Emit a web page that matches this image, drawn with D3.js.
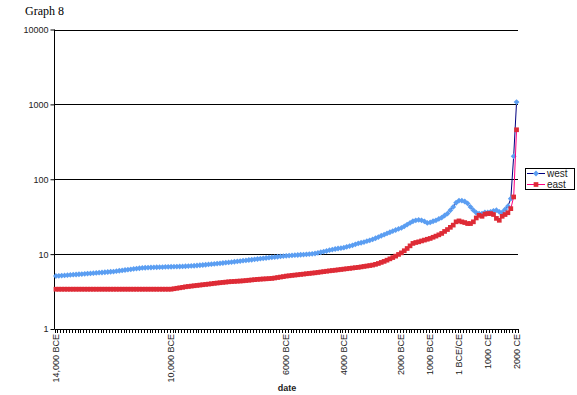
<!DOCTYPE html>
<html>
<head>
<meta charset="utf-8">
<script src="https://cdn.jsdelivr.net/npm/d3@7"></script>
<style>
  body { margin: 0; background: #fff; }
  svg { display: block; }
  text { font-family: "Liberation Sans", Arial, sans-serif; }
</style>
</head>
<body>
<svg></svg>
<script>
const svgWidth = 577;
const svgHeight = 395;

// categories: one every 100 years, 14,000 BCE .. 2000 CE
const years = d3.range(-14000, 2001, 100);

const west = [
  5.10, 5.13, 5.17, 5.20, 5.24, 5.27, 5.31, 5.34, 5.38, 5.41, 5.45,
  5.49, 5.53, 5.57, 5.61, 5.65, 5.69, 5.73, 5.77, 5.81, 5.85,
  5.92, 5.99, 6.06, 6.13, 6.20, 6.27, 6.34, 6.41, 6.48, 6.55,
  6.58, 6.61, 6.63, 6.66, 6.68, 6.70, 6.72, 6.74, 6.76, 6.78,
  6.80, 6.82, 6.84, 6.86, 6.88, 6.92, 6.96, 7.00, 7.05, 7.10,
  7.16, 7.22, 7.28, 7.34, 7.40, 7.47, 7.54, 7.61, 7.68, 7.75,
  7.83, 7.91, 8.00, 8.08, 8.17, 8.25, 8.34, 8.42, 8.51, 8.60,
  8.69, 8.78, 8.87, 8.96, 9.05, 9.14, 9.23, 9.32, 9.41, 9.50,
  9.56, 9.62, 9.68, 9.74, 9.80, 9.87, 9.94, 10.0, 10.1, 10.2,
  10.4, 10.6, 10.8, 11.0, 11.3, 11.5, 11.7, 11.9, 12.0, 12.2,
  12.5, 12.8, 13.1, 13.5, 13.9, 14.2, 14.5, 14.9, 15.3, 15.7,
  16.3, 16.9, 17.6, 18.2, 18.9, 19.6, 20.3, 21.0, 21.7, 22.4,
  23.5, 24.8, 26.1, 27.5, 28.3, 28.6, 28.3, 27.4, 26.1, 26.5,
  27.5, 28.3, 29.5, 30.8, 32.8, 34.8, 38.5, 42.7, 48.5, 51.7,
  51.7, 50.5, 47.5, 42.7, 38.6, 35.7, 34.8, 34.8, 36.0, 36.0,
  36.7, 37.9, 38.6, 36.7, 36.0, 39.5, 43.7, 55, 203, 1073
];

const east = [
  3.4, 3.4, 3.4, 3.4, 3.4, 3.4, 3.4, 3.4, 3.4, 3.4, 3.4,
  3.4, 3.4, 3.4, 3.4, 3.4, 3.4, 3.4, 3.4, 3.4, 3.4,
  3.4, 3.4, 3.4, 3.4, 3.4, 3.4, 3.4, 3.4, 3.4, 3.4,
  3.4, 3.4, 3.4, 3.4, 3.4, 3.4, 3.4, 3.4, 3.4, 3.4,
  3.45, 3.5, 3.55, 3.6, 3.66, 3.7, 3.74, 3.78, 3.82, 3.86,
  3.9, 3.94, 3.98, 4.02, 4.07, 4.11, 4.15, 4.19, 4.23, 4.27,
  4.3, 4.32, 4.35, 4.37, 4.4, 4.44, 4.48, 4.52, 4.56, 4.6,
  4.63, 4.66, 4.68, 4.71, 4.74, 4.8, 4.87, 4.94, 5.01, 5.09,
  5.14, 5.2, 5.25, 5.3, 5.36, 5.41, 5.47, 5.52, 5.58, 5.63,
  5.7, 5.77, 5.84, 5.91, 5.98, 6.04, 6.1, 6.17, 6.24, 6.31,
  6.38, 6.45, 6.52, 6.59, 6.66, 6.75, 6.85, 6.94, 7.04, 7.14,
  7.3, 7.5, 7.75, 8.0, 8.3, 8.65, 9.0, 9.4, 9.9, 10.4,
  11.1, 11.9, 12.9, 13.9, 14.3, 14.6, 15.0, 15.4, 15.8, 16.2,
  16.8, 17.4, 18.1, 18.9, 20.1, 21.3, 22.8, 24.4, 27.0, 27.8,
  27.0, 26.4, 25.6, 25.6, 27.0, 30.4, 33.0, 32.0, 34.2, 34.8,
  34.8, 33.8, 30.0, 28.3, 32.0, 33.8, 35.7, 40.5, 58, 458
];

const tickYears = [-14000, -10000, -6000, -4000, -2000, -1000, 0, 1000, 2000];
const tickLabels = ["14,000 BCE", "10,000 BCE", "6000 BCE", "4000 BCE", "2000 BCE",
                    "1000 BCE", "1 BCE/CE", "1000 CE", "2000 CE"];
const yTicks = [1, 10, 100, 1000, 10000];

const svg = d3.select("svg")
  .attr("width", svgWidth)
  .attr("height", svgHeight);

const plotLeft = 54.5, plotRight = 518, plotTop = 29.5, plotBottom = 329;

const x = d3.scalePoint()
  .domain(years)
  .range([plotLeft, plotRight])
  .padding(0.5);

const y = d3.scaleLog()
  .domain([1, 10000])
  .range([plotBottom, plotTop]);

// title
svg.append("text")
  .attr("x", 25)
  .attr("y", 15)
  .style("font-family", "'Liberation Serif', 'Times New Roman', serif")
  .style("font-size", "12px")
  .text("Graph 8");

// gridlines
svg.append("g")
  .selectAll("line")
  .data(yTicks.slice(1))
  .enter()
  .append("line")
  .attr("x1", plotLeft)
  .attr("x2", plotRight)
  .attr("y1", d => Math.round(y(d)) + 0.5)
  .attr("y2", d => Math.round(y(d)) + 0.5)
  .attr("stroke", "#000")
  .attr("stroke-width", 1);

// y axis
const yAxis = d3.axisLeft(y)
  .tickValues(yTicks)
  .tickFormat(d3.format("d"))
  .tickSize(4)
  .tickPadding(2);

svg.append("g")
  .attr("transform", "translate(" + plotLeft + ",0)")
  .call(yAxis)
  .call(g => g.select(".domain").attr("d", "M0," + plotTop + "V" + plotBottom))
  .call(g => g.selectAll("text")
    .style("font-size", "9px")
    .style("font-family", "'Liberation Sans', Arial, sans-serif")
    .attr("fill", "#222"));

// x axis: tick marks between categories, labels on selected categories
const step = x.step();
const xAxisG = svg.append("g");
xAxisG.append("line")
  .attr("x1", plotLeft)
  .attr("x2", plotRight)
  .attr("y1", plotBottom + 0.5)
  .attr("y2", plotBottom + 0.5)
  .attr("stroke", "#000");

xAxisG.selectAll("line.tick")
  .data(d3.range(years.length + 1))
  .enter()
  .append("line")
  .attr("class", "tick")
  .attr("x1", d => Math.round(plotLeft + d * step) + 0.5)
  .attr("x2", d => Math.round(plotLeft + d * step) + 0.5)
  .attr("y1", plotBottom)
  .attr("y2", plotBottom + 4)
  .attr("stroke", "#000");

xAxisG.selectAll("text")
  .data(tickYears)
  .enter()
  .append("text")
  .attr("transform", d => "translate(" + (x(d) + 3) + "," + (plotBottom + 5) + ") rotate(-90)")
  .attr("text-anchor", "end")
  .style("font-size", "9px")
  .attr("fill", "#222")
  .text((d, i) => tickLabels[i]);

svg.append("text")
  .attr("x", 287)
  .attr("y", 391)
  .attr("text-anchor", "middle")
  .style("font-size", "9px")
  .style("font-weight", "bold")
  .attr("fill", "#222")
  .text("date");

// series
const series = [
  { name: "west", values: west, line: "#000080", fill: "#5b9ef2", shape: "diamond" },
  { name: "east", values: east, line: "#ff0080", fill: "#de2b36", shape: "square" }
];

const line = d3.line()
  .x((d, i) => x(years[i]))
  .y(d => y(d));

function marker(sel, s) {
  sel.attr("d", d3.symbol(d3.symbolSquare, s.shape === "diamond" ? 17 : 22)())
    .attr("fill", s.fill);
}

series.forEach(s => {
  svg.append("path")
    .datum(s.values)
    .attr("d", line)
    .attr("fill", "none")
    .attr("stroke", s.line)
    .attr("stroke-width", 1);

  svg.append("g")
    .selectAll("path")
    .data(s.values)
    .enter()
    .append("path")
    .attr("transform", (d, i) => "translate(" + x(years[i]) + "," + y(d) + ")" +
      (s.shape === "diamond" ? " rotate(45)" : ""))
    .call(marker, s);
});

// legend
const legend = svg.append("g");
legend.append("rect")
  .attr("x", 525.5)
  .attr("y", 168.5)
  .attr("width", 49)
  .attr("height", 21)
  .attr("fill", "#fff")
  .attr("stroke", "#000");

series.forEach((s, i) => {
  const ly = 173.5 + i * 11;
  legend.append("line")
    .attr("x1", 527)
    .attr("x2", 545)
    .attr("y1", ly)
    .attr("y2", ly)
    .attr("stroke", s.line);
  legend.append("path")
    .attr("transform", "translate(536," + ly + ")" + (s.shape === "diamond" ? " rotate(45)" : ""))
    .call(marker, s);
  legend.append("text")
    .attr("x", 547)
    .attr("y", ly + 3.5)
    .style("font-size", "10px")
    .attr("fill", "#222")
    .text(s.name);
});
</script>
</body>
</html>
